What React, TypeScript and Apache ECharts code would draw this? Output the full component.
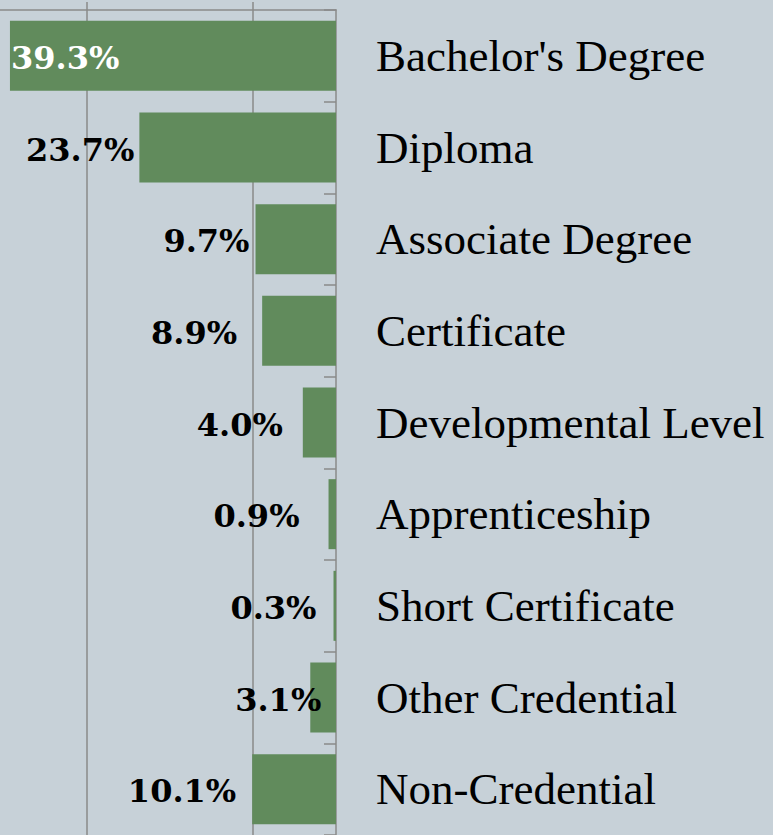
import React, { useEffect, useRef } from "react";
import * as echarts from "echarts";

const categories = [
  "Bachelor's Degree",
  "Diploma",
  "Associate Degree",
  "Certificate",
  "Developmental Level",
  "Apprenticeship",
  "Short Certificate",
  "Other Credential",
  "Non-Credential",
];
const values = [39.3, 23.7, 9.7, 8.9, 4.0, 0.9, 0.3, 3.1, 10.1];
const gridTicks = [10, 30];

// label gap (px) between each label and its bar end (style only)
const labelGap = [1, 5, 6, 25, 20, 29, 17, -11, 16];

const GREY = "#8a8a8a";
const GREEN = "#618b5c";

export default function App() {
  const ref = useRef<HTMLDivElement>(null);
  useEffect(() => {
    if (!ref.current) return;
    const chart = echarts.init(ref.current, undefined, { renderer: "svg" });
    const data = values.map((v, i) => ({
      value: v,
      label:
        i === 0
          ? { position: "insideLeft", distance: labelGap[i], color: "#ffffff" }
          : { position: "left", distance: labelGap[i], color: "#000000" },
    }));
    chart.setOption({
      animation: false,
      backgroundColor: "#c7d1d8",
      grid: { left: 0, right: 437, top: 10, bottom: -3, containLabel: false },
      xAxis: {
        type: "value",
        position: "top",
        inverse: true,
        min: 0,
        max: 40.5,
        axisLine: { show: true, lineStyle: { color: GREY, width: 1.5 } },
        axisTick: {
          show: true,
          inside: false,
          length: 8,
          customValues: gridTicks,
          lineStyle: { color: GREY, width: 1.5 },
        },
        axisLabel: { show: false },
        splitLine: { show: true, lineStyle: { color: GREY, width: 1.5 } },
      },
      yAxis: {
        type: "category",
        data: categories,
        inverse: true,
        position: "right",
        axisLine: { show: true, lineStyle: { color: GREY, width: 1.5 } },
        axisTick: { show: true, inside: true, length: 12, lineStyle: { color: GREY, width: 1.5 } },
        axisLabel: {
          margin: 40,
          fontFamily: "'Liberation Serif', 'Times New Roman', serif",
          fontSize: 45,
          color: "#000000",
          align: "left",
        },
        splitLine: { show: false },
      },
      series: [
        {
          type: "bar",
          data,
          barWidth: 70,
          itemStyle: { color: GREEN },
          label: {
            show: true,
            formatter: (p: any) => p.value.toFixed(1) + "%",
            fontFamily: "'DejaVu Serif', Georgia, serif",
            fontWeight: "bold",
            fontSize: 32,
            offset: [0, 2],
          },
        },
      ],
    });
    return () => chart.dispose();
  }, []);
  return (
    <div
      ref={ref}
      style={{ position: "absolute", left: 0, top: 0, width: 773, height: 835 }}
    />
  );
}
